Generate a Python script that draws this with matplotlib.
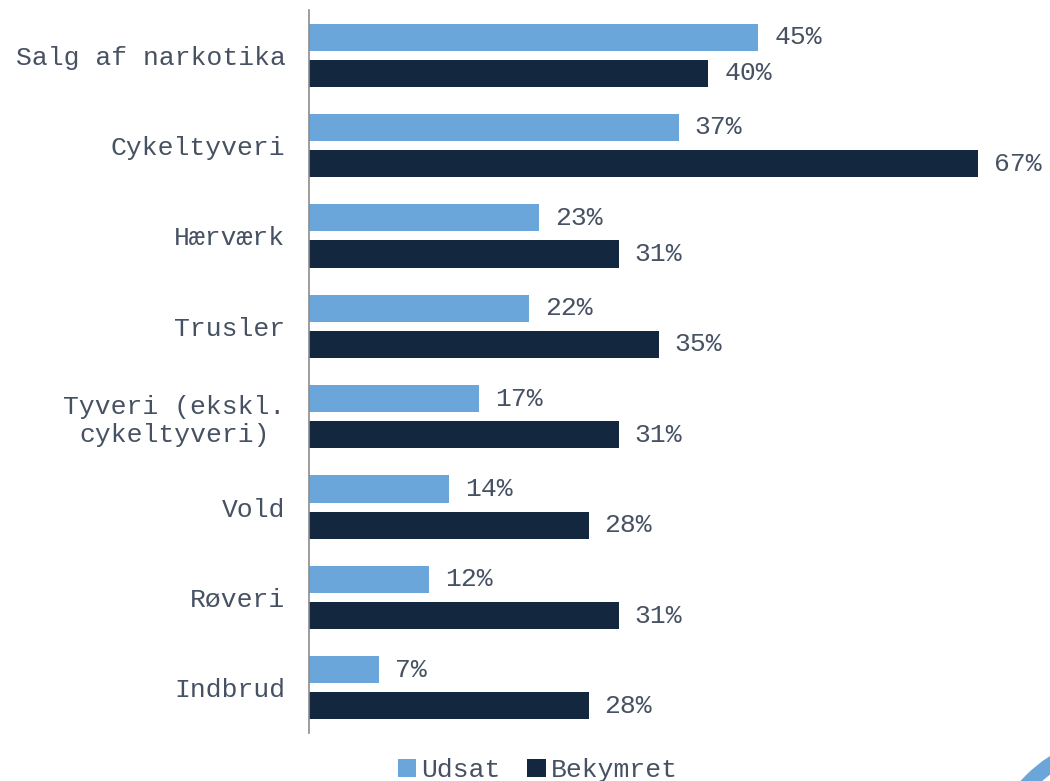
import matplotlib.pyplot as plt
import numpy as np
from matplotlib.patches import Circle

categories = ["Salg af narkotika", "Cykeltyveri", "Hærværk", "Trusler",
              "Tyveri (ekskl.\ncykeltyveri)", "Vold", "Røveri", "Indbrud"]
udsat = [45, 37, 23, 22, 17, 14, 12, 7]
bekymret = [40, 67, 31, 35, 31, 28, 31, 28]
series_names = ["Udsat", "Bekymret"]

light = "#6aa6da"
dark = "#13283e"
text_col = "#465263"
font = "Liberation Mono"
fs = 19

fig = plt.figure(figsize=(10.5, 7.81), dpi=100)
ax = fig.add_axes([309 / 1050, 48 / 781, 741 / 1050, 723 / 781])

y = np.arange(len(categories))
h = 0.3
b1 = ax.barh(y - 0.2, udsat, height=h, color=light, label=series_names[0])
b2 = ax.barh(y + 0.2, bekymret, height=h, color=dark, label=series_names[1])

for bars, vals in ((b1, udsat), (b2, bekymret)):
    for bar, v in zip(bars, vals):
        ax.text(bar.get_width() + 1.6, bar.get_y() + bar.get_height() / 2, f"{v}%",
                va="center", ha="left", fontsize=fs, family=font, color=text_col)

ax.set_xlim(0, 74.2)
ax.set_ylim(len(categories) - 0.5, -0.5)
ax.set_yticks(y)
ax.set_yticklabels(categories, fontsize=fs, family=font, color=text_col,
                   multialignment="center")
ax.tick_params(axis="y", length=0, pad=17)
ax.set_xticks([])
for s in ("top", "right", "bottom"):
    ax.spines[s].set_visible(False)
ax.spines["left"].set_color("#8c8c8c")
ax.spines["left"].set_linewidth(1.2)

fig.legend(handles=[b1, b2], labels=series_names, loc="center",
           bbox_to_anchor=(538 / 1050, 11 / 781), ncol=2, frameon=False,
           prop={"family": font, "size": fs}, labelcolor=text_col,
           handlelength=0.7, handleheight=0.7, handletextpad=0.2,
           columnspacing=1.0)

# decorative arc in lower right corner
fig.patches.append(Circle((11.3, -0.99), 1.40, fill=False, edgecolor=light,
                          linewidth=11, transform=fig.dpi_scale_trans, figure=fig))

fig.savefig("out.png", dpi=100)
